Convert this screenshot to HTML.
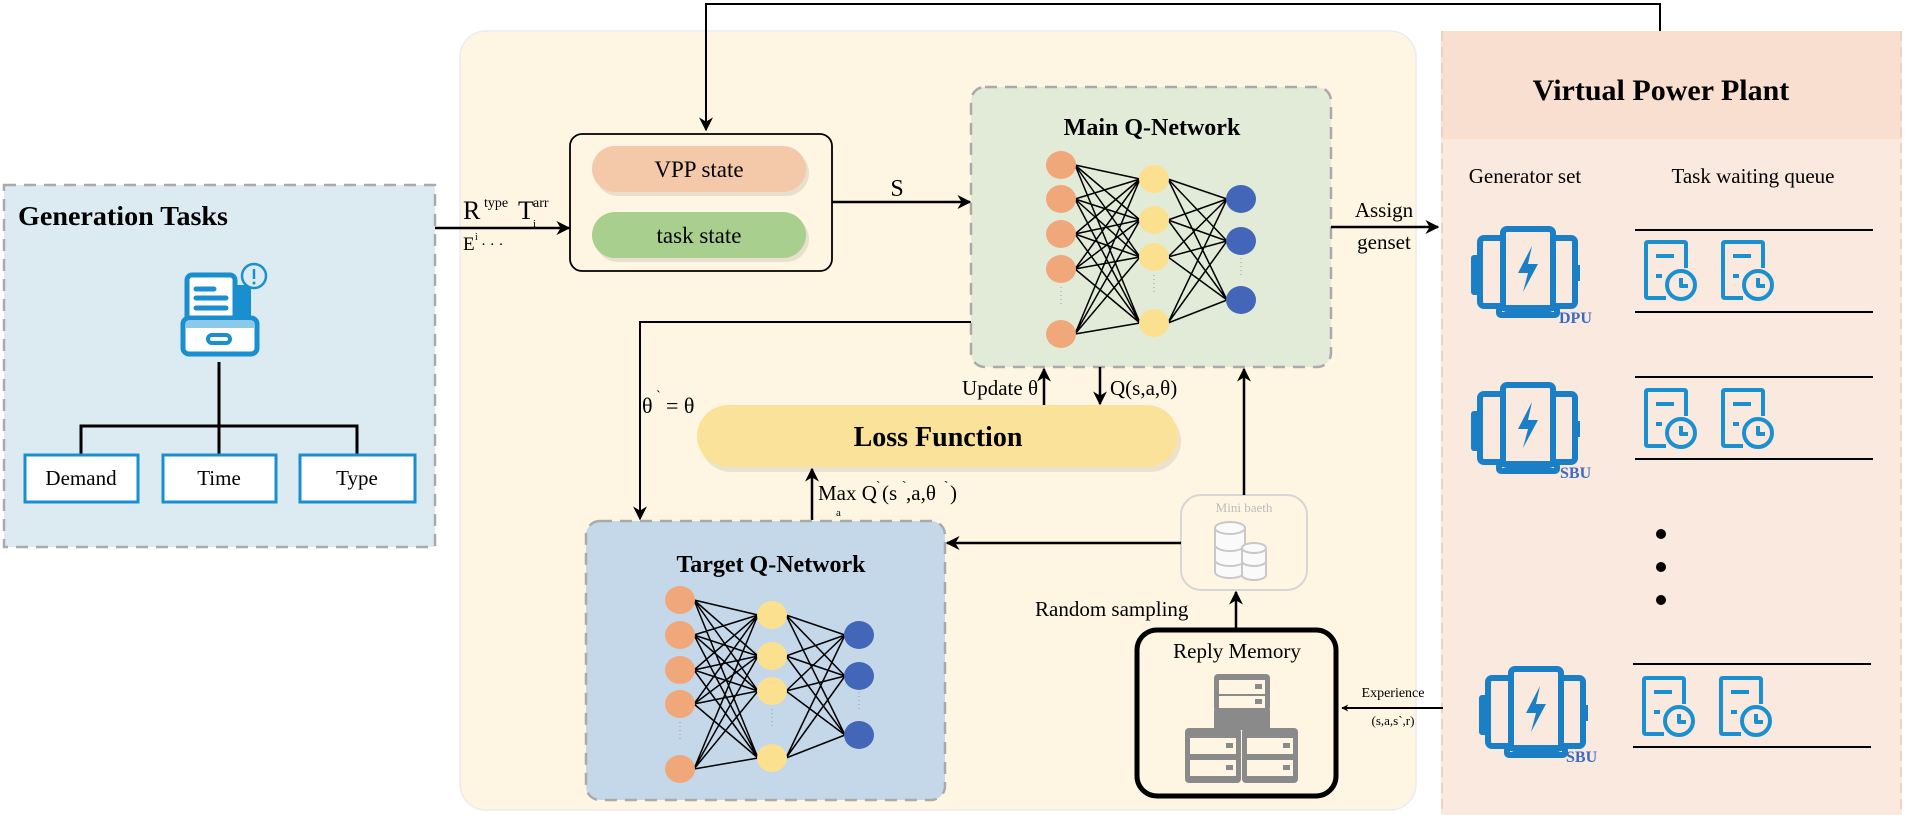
<!DOCTYPE html>
<html><head><meta charset="utf-8"><style>
html,body{margin:0;padding:0;background:#fff;}
svg{display:block;font-family:"Liberation Serif",serif;}
</style></head><body>
<svg width="1905" height="815" viewBox="0 0 1905 815" xmlns="http://www.w3.org/2000/svg">
<defs>
<marker id="ah" viewBox="0 0 10 10" refX="9" refY="5" markerWidth="7" markerHeight="7" orient="auto-start-reverse" markerUnits="userSpaceOnUse">
<path d="M0,0 L10,5 L0,10 L3,5 z" fill="#000"/></marker>
<marker id="ah2" viewBox="0 0 10 10" refX="9" refY="5" markerWidth="14" markerHeight="14" orient="auto" markerUnits="userSpaceOnUse">
<path d="M0,0 L10,5 L0,10 L3,5 z" fill="#000"/></marker>
<g id="gen" fill="none" stroke="#1a7fc4" stroke-width="6" stroke-linejoin="round">
<rect x="0" y="27" width="10" height="40" rx="3" fill="#1a7fc4" stroke="none"/>
<rect x="9" y="10" width="95" height="68" rx="4"/>
<rect x="103" y="37" width="6" height="16" fill="#1a7fc4" stroke="none"/>
<rect x="32" y="1" width="50" height="80" rx="4" fill="#f9e9df"/>
<rect x="28" y="80" width="58" height="7" rx="2"/>
<path d="M61 18 L47 45 L57 45 L52 64 L67 36 L57 36 Z" fill="#1a7fc4" stroke="none"/>
</g>
<g id="task" fill="none" stroke="#1a90d0" stroke-width="4" stroke-linejoin="round">
<path d="M22 58 H4 Q2 58 2 56 V4 Q2 2 4 2 H40 Q42 2 42 4 V28"/>
<path d="M12 16 H30 M12 36 H18"/>
<circle cx="37" cy="45" r="14" fill="#f9e9df"/>
<path d="M37 38 V46 H44"/>
</g>
</defs>

<!-- Generation tasks panel -->
<rect x="4" y="185" width="431" height="362" fill="#dcebf2" stroke="#aaaaaa" stroke-width="2.5" stroke-dasharray="12,8"/>
<text x="18" y="225" font-size="27" font-weight="bold" textLength="210" lengthAdjust="spacingAndGlyphs">Generation Tasks</text>
<!-- doc icon -->
<g>
<rect x="187" y="275" width="48" height="55" rx="5" fill="#fff" stroke="#1a8fd0" stroke-width="5"/>
<rect x="235" y="285" width="16" height="45" fill="#1a8fd0"/>
<path d="M196 289 H214 M196 298 H226 M196 308 H226" stroke="#1a8fd0" stroke-width="5" stroke-linecap="round"/>
<rect x="183" y="318" width="74" height="36" rx="6" fill="#fff" stroke="#1a8fd0" stroke-width="5"/>
<rect x="186" y="321" width="68" height="7" fill="#8cc8e8"/>
<rect x="208" y="335" width="22" height="8" rx="4" fill="#fff" stroke="#1a8fd0" stroke-width="4"/>
<circle cx="254" cy="276" r="12" fill="#dcebf2" stroke="#1a8fd0" stroke-width="2.5"/>
<path d="M254 269 V279" stroke="#1a8fd0" stroke-width="2.5"/><circle cx="254" cy="283" r="1.5" fill="#1a8fd0"/>
</g>
<path d="M219 362 V455 M81 455 V426 H357 V455" fill="none" stroke="#000" stroke-width="3"/>
<g fill="#fff" stroke="#1a8fd0" stroke-width="3">
<rect x="25" y="455" width="113" height="47"/><rect x="163" y="455" width="113" height="47"/><rect x="300" y="455" width="115" height="47"/>
</g>
<g font-size="21" text-anchor="middle">
<text x="81" y="485">Demand</text><text x="219" y="485">Time</text><text x="357" y="485">Type</text>
</g>

<!-- main panel -->
<rect x="460" y="31" width="956" height="779" rx="26" fill="#fef6e2" stroke="#ececec" stroke-width="1.5"/>

<!-- VPP panel -->
<rect x="1441" y="31" width="461" height="784" fill="#f9e9df"/>
<rect x="1441" y="31" width="461" height="108" fill="#f9dfd0"/>
<line x1="1442" y1="31" x2="1442" y2="815" stroke="#f3cfc0" stroke-width="2" stroke-dasharray="10,6"/>
<line x1="1901" y1="31" x2="1901" y2="815" stroke="#f3cfc0" stroke-width="2" stroke-dasharray="10,6"/>
<text x="1661" y="100" font-size="30" font-weight="bold" text-anchor="middle">Virtual Power Plant</text>
<text x="1525" y="183" font-size="21" text-anchor="middle">Generator set</text>
<text x="1753" y="183" font-size="21" text-anchor="middle">Task waiting queue</text>
<g stroke="#000" stroke-width="2">
<line x1="1635" y1="230" x2="1873" y2="230"/><line x1="1635" y1="312" x2="1873" y2="312"/>
<line x1="1635" y1="377" x2="1873" y2="377"/><line x1="1635" y1="459" x2="1873" y2="459"/>
<line x1="1633" y1="664" x2="1871" y2="664"/><line x1="1633" y1="747" x2="1871" y2="747"/>
</g>
<use href="#gen" x="1471" y="228"/>
<use href="#gen" x="1471" y="384"/>
<use href="#gen" x="1479" y="668"/>
<g font-size="16" font-weight="bold" fill="#3a6bc0">
<text x="1559" y="323">DPU</text><text x="1560" y="478">SBU</text><text x="1566" y="762">SBU</text>
</g>
<use href="#task" x="1644" y="240"/><use href="#task" x="1721" y="240"/>
<use href="#task" x="1644" y="388"/><use href="#task" x="1721" y="388"/>
<use href="#task" x="1642" y="676"/><use href="#task" x="1719" y="676"/>
<g fill="#000"><circle cx="1661" cy="534" r="5"/><circle cx="1661" cy="567" r="5"/><circle cx="1661" cy="600" r="5"/></g>

<!-- top feedback line -->
<path d="M1660 31 V4 H706 V130" fill="none" stroke="#000" stroke-width="2" marker-end="url(#ah2)"/>

<!-- input arrow -->
<line x1="435" y1="228" x2="569" y2="228" stroke="#000" stroke-width="2.5" marker-end="url(#ah2)"/>
<text x="463" y="219" font-size="26">R</text>
<text x="484" y="207" font-size="14">type</text>
<text x="518" y="219" font-size="26">T</text>
<text x="533" y="207" font-size="14">arr</text>
<text x="533" y="227" font-size="11">i</text>
<text x="463" y="250" font-size="19">E</text>
<text x="475" y="240" font-size="10">i</text>
<text x="481" y="249" font-size="15">· · ·</text>

<!-- state box -->
<rect x="570" y="134" width="262" height="137" rx="12" fill="#fef6e2" stroke="#000" stroke-width="1.8"/>
<rect x="595" y="150" width="214" height="46" rx="23" fill="#d9d0c2" opacity="0.6"/>
<rect x="592" y="146" width="214" height="46" rx="23" fill="#f4c9aa"/>
<rect x="595" y="216" width="214" height="46" rx="23" fill="#d9d0c2" opacity="0.6"/>
<rect x="592" y="212" width="214" height="46" rx="23" fill="#a9cf8e"/>
<text x="699" y="177" font-size="23" text-anchor="middle">VPP state</text>
<text x="699" y="243" font-size="23" text-anchor="middle">task state</text>
<line x1="832" y1="202" x2="970" y2="202" stroke="#000" stroke-width="2.5" marker-end="url(#ah2)"/>
<text x="897" y="196" font-size="24" text-anchor="middle">S</text>

<!-- main Q box -->
<rect x="971" y="87" width="360" height="280" rx="14" fill="#e2ebd8" stroke="#aaaaaa" stroke-width="2.5" stroke-dasharray="12,8"/>
<text x="1152" y="135" font-size="24" font-weight="bold" text-anchor="middle">Main Q-Network</text>
<path fill="none" stroke="#000" stroke-width="1.5" d="
M1075 165L1140 179M1075 165L1140 220M1075 165L1140 257M1075 165L1140 323
M1075 199L1140 179M1075 199L1140 220M1075 199L1140 257M1075 199L1140 323
M1075 234L1140 179M1075 234L1140 220M1075 234L1140 257M1075 234L1140 323
M1075 269L1140 179M1075 269L1140 220M1075 269L1140 257M1075 269L1140 323
M1075 334L1140 179M1075 334L1140 220M1075 334L1140 257M1075 334L1140 323
M1168 179L1227 199M1168 179L1227 241M1168 179L1227 300
M1168 220L1227 199M1168 220L1227 241M1168 220L1227 300
M1168 257L1227 199M1168 257L1227 241M1168 257L1227 300
M1168 323L1227 199M1168 323L1227 241M1168 323L1227 300"/>
<g fill="#f0a77a"><ellipse cx="1061" cy="165" rx="15" ry="14"/><ellipse cx="1061" cy="199" rx="15" ry="14"/><ellipse cx="1061" cy="234" rx="15" ry="14"/><ellipse cx="1061" cy="269" rx="15" ry="14"/><ellipse cx="1061" cy="334" rx="15" ry="14"/></g>
<g fill="#fbe08f"><ellipse cx="1154" cy="179" rx="15" ry="14"/><ellipse cx="1154" cy="220" rx="15" ry="14"/><ellipse cx="1154" cy="257" rx="15" ry="14"/><ellipse cx="1154" cy="323" rx="15" ry="14"/></g>
<g fill="#4466b8"><ellipse cx="1241" cy="199" rx="15" ry="14"/><ellipse cx="1241" cy="241" rx="15" ry="14"/><ellipse cx="1241" cy="300" rx="15" ry="14"/></g>
<g stroke="#999" stroke-width="1" stroke-dasharray="1,3"><line x1="1061" y1="287" x2="1061" y2="305"/><line x1="1154" y1="275" x2="1154" y2="292"/><line x1="1241" y1="258" x2="1241" y2="275"/></g>

<!-- assign -->
<line x1="1331" y1="227" x2="1438" y2="227" stroke="#000" stroke-width="2.5" marker-end="url(#ah2)"/>
<text x="1384" y="217" font-size="21" text-anchor="middle">Assign</text>
<text x="1384" y="249" font-size="21" text-anchor="middle">genset</text>

<!-- theta copy line -->
<path d="M971 322 H640 V519" fill="none" stroke="#000" stroke-width="2" marker-end="url(#ah2)"/>
<text x="642" y="413" font-size="22">θ</text><text x="656" y="400" font-size="14">`</text><text x="666" y="413" font-size="22">= θ</text>

<!-- update / Q arrows -->
<line x1="1044" y1="405" x2="1044" y2="369" stroke="#000" stroke-width="2.5" marker-end="url(#ah2)"/>
<line x1="1100" y1="367" x2="1100" y2="404" stroke="#000" stroke-width="2.5" marker-end="url(#ah2)"/>
<text x="1038" y="395" font-size="21" text-anchor="end">Update  θ</text>
<text x="1110" y="395" font-size="21">Q(s,a,θ)</text>

<!-- loss function -->
<rect x="700" y="410" width="481" height="62" rx="31" fill="#d9d2bf" opacity="0.55"/>
<rect x="697" y="405" width="481" height="62" rx="31" fill="#fbe29a"/>
<text x="938" y="446" font-size="28" font-weight="bold" text-anchor="middle">Loss  Function</text>

<!-- max Q -->
<line x1="812" y1="520" x2="812" y2="469" stroke="#000" stroke-width="2.5" marker-end="url(#ah2)"/>
<text x="818" y="500" font-size="21">Max Q</text><text x="876" y="490" font-size="13">`</text><text x="882" y="500" font-size="21">(s</text><text x="902" y="490" font-size="13">`</text><text x="906" y="500" font-size="21">,a,θ</text><text x="944" y="490" font-size="13">`</text><text x="950" y="500" font-size="21">)</text>
<text x="836" y="516" font-size="11">a</text>

<!-- target Q box -->
<rect x="586" y="521" width="359" height="279" rx="14" fill="#c4d8ea" stroke="#aaaaaa" stroke-width="2.5" stroke-dasharray="12,8"/>
<text x="771" y="572" font-size="24" font-weight="bold" text-anchor="middle">Target Q-Network</text>
<path fill="none" stroke="#000" stroke-width="1.5" d="
M694 600L758 615M694 600L758 656M694 600L758 691M694 600L758 758
M694 635L758 615M694 635L758 656M694 635L758 691M694 635L758 758
M694 670L758 615M694 670L758 656M694 670L758 691M694 670L758 758
M694 704L758 615M694 704L758 656M694 704L758 691M694 704L758 758
M694 769L758 615M694 769L758 656M694 769L758 691M694 769L758 758
M786 615L845 635M786 615L845 676M786 615L845 735
M786 656L845 635M786 656L845 676M786 656L845 735
M786 691L845 635M786 691L845 676M786 691L845 735
M786 758L845 635M786 758L845 676M786 758L845 735"/>
<g fill="#f0a77a"><ellipse cx="680" cy="600" rx="15" ry="14"/><ellipse cx="680" cy="635" rx="15" ry="14"/><ellipse cx="680" cy="670" rx="15" ry="14"/><ellipse cx="680" cy="704" rx="15" ry="14"/><ellipse cx="680" cy="769" rx="15" ry="14"/></g>
<g fill="#fbe08f"><ellipse cx="772" cy="615" rx="15" ry="14"/><ellipse cx="772" cy="656" rx="15" ry="14"/><ellipse cx="772" cy="691" rx="15" ry="14"/><ellipse cx="772" cy="758" rx="15" ry="14"/></g>
<g fill="#4466b8"><ellipse cx="859" cy="635" rx="15" ry="14"/><ellipse cx="859" cy="676" rx="15" ry="14"/><ellipse cx="859" cy="735" rx="15" ry="14"/></g>
<g stroke="#999" stroke-width="1" stroke-dasharray="1,3"><line x1="680" y1="722" x2="680" y2="742"/><line x1="772" y1="709" x2="772" y2="728"/><line x1="859" y1="692" x2="859" y2="712"/></g>

<!-- mini batch -->
<rect x="1181" y="495" width="126" height="95" rx="20" fill="#fef6e2" stroke="#d6d6d6" stroke-width="2"/>
<text x="1244" y="512" font-size="13" fill="#bbbbbb" text-anchor="middle">Mini baeth</text>
<g fill="#fafafa" stroke="#c8c8c8" stroke-width="2">
<path d="M1215 528 V572 A15 6 0 0 0 1245 572 V528"/><ellipse cx="1230" cy="528" rx="15" ry="6"/>
<path d="M1215 545 A15 6 0 0 0 1245 545 M1215 560 A15 6 0 0 0 1245 560" fill="none"/>
<path d="M1242 548 V575 A12 5 0 0 0 1266 575 V548"/><ellipse cx="1254" cy="548" rx="12" ry="5"/>
<path d="M1242 561 A12 5 0 0 0 1266 561" fill="none"/>
</g>
<line x1="1181" y1="543" x2="947" y2="543" stroke="#000" stroke-width="2.5" marker-end="url(#ah2)"/>
<line x1="1244" y1="495" x2="1244" y2="369" stroke="#000" stroke-width="2.5" marker-end="url(#ah2)"/>

<!-- random sampling -->
<text x="1035" y="616" font-size="21">Random sampling</text>
<line x1="1236" y1="629" x2="1236" y2="592" stroke="#000" stroke-width="2.5" marker-end="url(#ah2)"/>

<!-- reply memory -->
<rect x="1137" y="630" width="199" height="166" rx="20" fill="#fef6e2" stroke="#000" stroke-width="5"/>
<text x="1237" y="658" font-size="21" text-anchor="middle">Reply Memory</text>
<g fill="#8a8a8a">
<rect x="1214" y="674" width="56" height="38" rx="4"/>
<rect x="1185" y="728" width="56" height="55" rx="4"/>
<rect x="1242" y="728" width="56" height="55" rx="4"/>
<rect x="1214" y="710" width="56" height="20"/>
</g>
<g fill="#fef6e2">
<rect x="1219" y="680" width="46" height="14"/><rect x="1219" y="696" width="46" height="12"/>
<rect x="1190" y="738" width="46" height="16"/><rect x="1190" y="760" width="46" height="16"/>
<rect x="1247" y="738" width="46" height="16"/><rect x="1247" y="760" width="46" height="16"/>
</g>
<g fill="#8a8a8a"><rect x="1255" y="684" width="7" height="5"/><rect x="1255" y="699" width="7" height="5"/>
<rect x="1226" y="743" width="7" height="5"/><rect x="1226" y="765" width="7" height="5"/>
<rect x="1283" y="743" width="7" height="5"/><rect x="1283" y="765" width="7" height="5"/></g>

<!-- experience -->
<line x1="1443" y1="708" x2="1342" y2="708" stroke="#000" stroke-width="2" marker-end="url(#ah)"/>
<text x="1393" y="697" font-size="14" text-anchor="middle">Experience</text>
<text x="1393" y="725" font-size="13" text-anchor="middle">(s,a,s`,r)</text>
</svg>
</body></html>
